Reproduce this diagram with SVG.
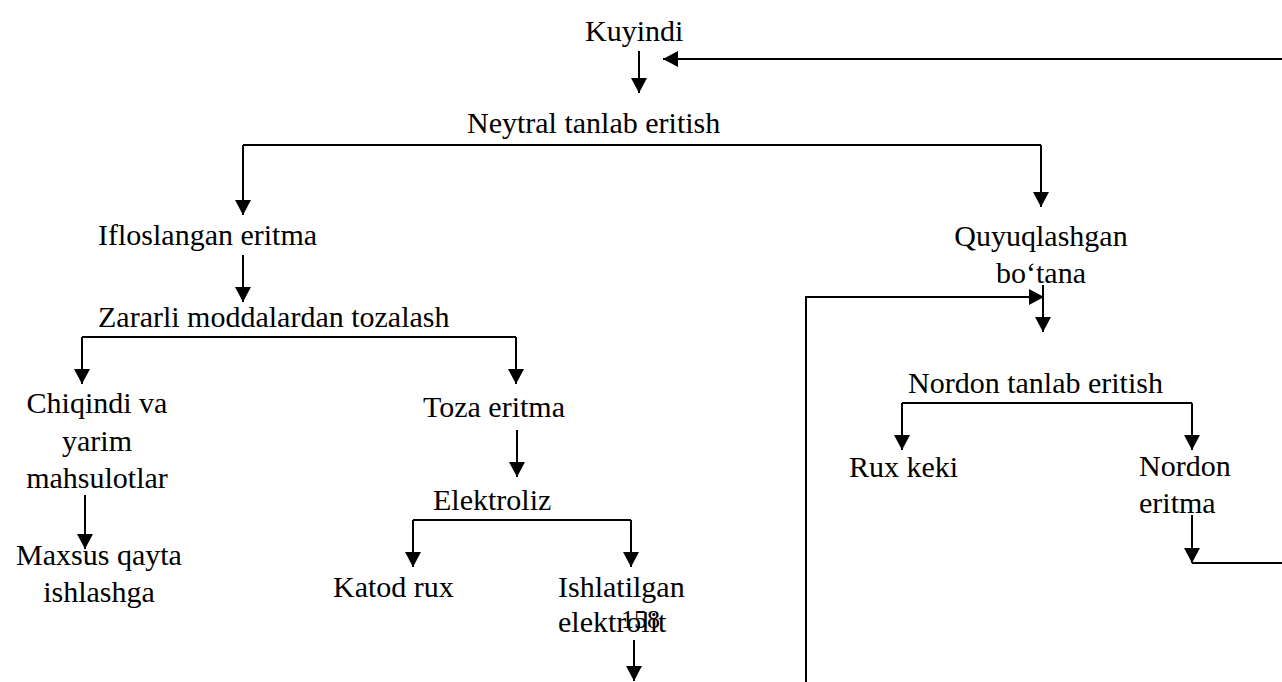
<svg xmlns="http://www.w3.org/2000/svg" width="1282" height="682" viewBox="0 0 1282 682">
  <defs>
    <style>
      .t { font-size: 30px; fill: #000; }
      .pg { font-size: 26px; fill: #000; }
      .ln { fill: none; stroke: #000; stroke-width: 2; }
      .ar { fill: none; stroke: #000; stroke-width: 2; marker-end: url(#head); }
    </style>
    <marker id="head" markerUnits="userSpaceOnUse" markerWidth="16" markerHeight="16" refX="15" refY="8" orient="auto">
      <path d="M0,0 L15,8 L0,16 z" fill="#000"/>
    </marker>
  </defs>
  <rect width="1282" height="682" fill="#fff"/>

  <!-- connectors -->
  <g id="connectors">
    <!-- Kuyindi -> Neytral tanlab eritish -->
    <path class="ar" d="M639,51 V93"/>
    <!-- recycle of Nordon eritma back to roasting product -->
    <path class="ar" d="M1282,59 H663"/>
    <!-- Neytral tanlab eritish split -->
    <path class="ln" d="M243,145 H1041"/>
    <path class="ar" d="M243,145 V215"/>
    <path class="ar" d="M1041,145 V207"/>
    <!-- Ifloslangan eritma -> Zararli moddalardan tozalash -->
    <path class="ar" d="M243,255 V302"/>
    <!-- Zararli moddalardan tozalash split -->
    <path class="ln" d="M82,337 H516"/>
    <path class="ar" d="M82,337 V384"/>
    <path class="ar" d="M516,337 V384"/>
    <!-- Chiqindi -> Maxsus qayta ishlashga -->
    <path class="ar" d="M85,495 V549"/>
    <!-- Toza eritma -> Elektroliz -->
    <path class="ar" d="M517,430 V477"/>
    <!-- Elektroliz split -->
    <path class="ln" d="M413,520 H631"/>
    <path class="ar" d="M413,520 V567"/>
    <path class="ar" d="M631,520 V567"/>
    <!-- Ishlatilgan elektrolit onward -->
    <path class="ar" d="M634,640 V681"/>
    <!-- return stream into Quyuqlashgan bo'tana -->
    <path class="ar" d="M806,682 V297 H1044"/>
    <path class="ar" d="M1043,285 V332"/>
    <!-- Nordon tanlab eritish split -->
    <path class="ln" d="M902,403 H1192"/>
    <path class="ar" d="M902,403 V450"/>
    <path class="ar" d="M1192,403 V450"/>
    <!-- Nordon eritma out to recycle line -->
    <path class="ar" d="M1192,515 V563"/>
    <path class="ln" d="M1192,563 H1282"/>
  </g>

  <!-- nodes -->
  <g font-family="'Liberation Serif', 'Times New Roman', 'DejaVu Serif', serif">
    <g id="kuyindi"><text class="t" x="585" y="41">Kuyindi</text></g>
    <g id="neytral"><text class="t" x="467" y="133">Neytral tanlab eritish</text></g>
    <g id="ifloslangan"><text class="t" x="98" y="245">Ifloslangan eritma</text></g>
    <g id="quyuqlashgan">
      <text class="t" x="1041" y="246" text-anchor="middle">Quyuqlashgan</text>
      <text class="t" x="1041" y="283" text-anchor="middle">bo‘tana</text>
    </g>
    <g id="zararli"><text class="t" x="98" y="327">Zararli moddalardan tozalash</text></g>
    <g id="chiqindi">
      <text class="t" x="97" y="413" text-anchor="middle">Chiqindi va</text>
      <text class="t" x="97" y="451" text-anchor="middle">yarim</text>
      <text class="t" x="97" y="488" text-anchor="middle">mahsulotlar</text>
    </g>
    <g id="maxsus">
      <text class="t" x="99" y="565" text-anchor="middle">Maxsus qayta</text>
      <text class="t" x="99" y="602" text-anchor="middle">ishlashga</text>
    </g>
    <g id="toza"><text class="t" x="423" y="417">Toza eritma</text></g>
    <g id="elektroliz"><text class="t" x="433" y="510">Elektroliz</text></g>
    <g id="katod"><text class="t" x="333" y="597">Katod rux</text></g>
    <g id="ishlatilgan">
      <text class="t" x="558" y="597">Ishlatilgan</text>
      <text class="t" x="558" y="632">elektrolit</text>
    </g>
    <g id="page-number"><text class="pg" x="621" y="628">158</text></g>
    <g id="nordon-tanlab"><text class="t" x="908" y="393">Nordon tanlab eritish</text></g>
    <g id="rux-keki"><text class="t" x="849" y="477">Rux keki</text></g>
    <g id="nordon-eritma">
      <text class="t" x="1139" y="476">Nordon</text>
      <text class="t" x="1139" y="513">eritma</text>
    </g>
  </g>
</svg>
